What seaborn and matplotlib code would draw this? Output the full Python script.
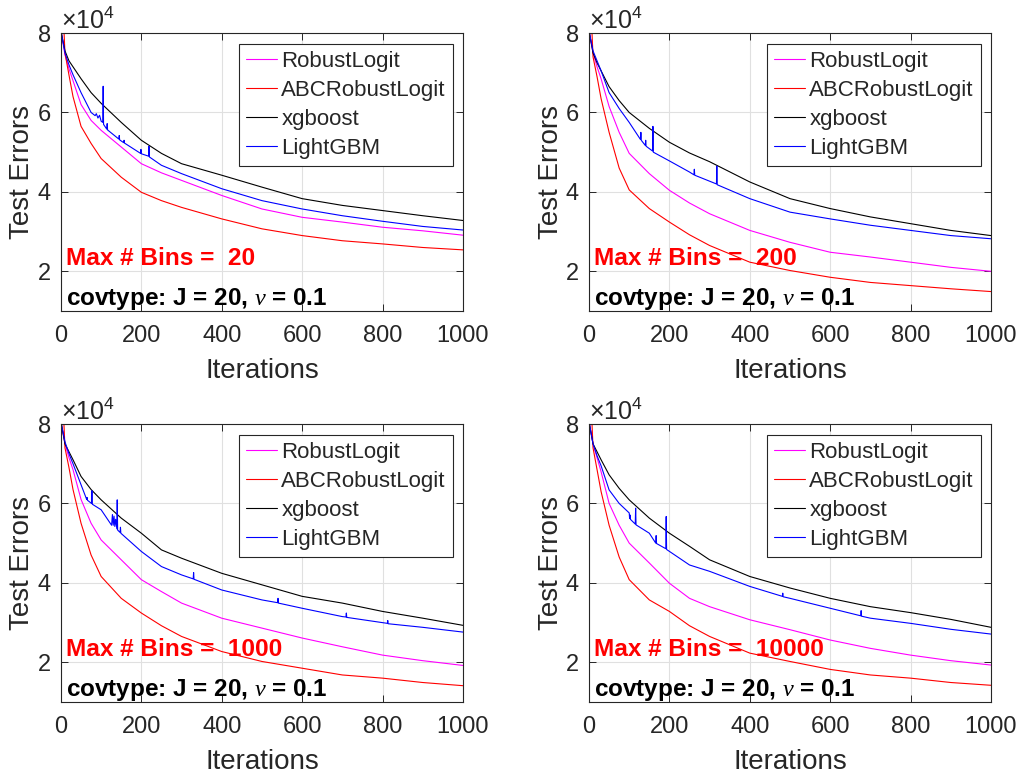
import pandas as pd
import matplotlib
matplotlib.use("Agg")
import matplotlib.pyplot as plt
import seaborn as sns

# test errors, in units of 1e4
iters = [1, 10, 20, 30, 50, 75, 100, 150, 200, 250, 300, 400, 500, 600, 700, 800, 900, 1000]
methods = ["RobustLogit", "ABCRobustLogit", "xgboost", "LightGBM"]
colors = ["#ff00ff", "#ff0000", "#000000", "#0000ff"]
bins = [20, 200, 1000, 10000]

# Max # Bins = 20
rob1 = [8.0, 7.45, 7.1, 6.8, 6.2, 5.8, 5.55, 5.13, 4.71, 4.48, 4.29, 3.91, 3.57, 3.36, 3.24, 3.11, 3.02, 2.91]
abc1 = [9.5, 7.5, 6.94, 6.4, 5.65, 5.22, 4.84, 4.37, 3.99, 3.78, 3.61, 3.32, 3.07, 2.90, 2.77, 2.69, 2.60, 2.54]
xgb1 = [8.0, 7.55, 7.3, 7.15, 6.85, 6.5, 6.23, 5.75, 5.3, 4.97, 4.71, 4.42, 4.12, 3.83, 3.66, 3.53, 3.40, 3.28]
lgb1_it = [1, 10, 20, 30, 50, 75, 85, 88, 92, 96, 100, 104, 105, 106, 114, 115, 116, 144, 145, 146,
           156, 157, 158, 198, 199, 200, 218, 219, 220, 250, 300, 400, 500, 600, 700, 800, 900, 1000]
lgb1 = [8.0, 7.5, 7.2, 6.95, 6.5, 6.0, 5.92, 5.97, 5.86, 5.93, 5.78, 5.75, 6.66, 5.7, 5.58, 5.72, 5.56, 5.33, 5.42, 5.31,
        5.24, 5.3, 5.23, 4.97, 5.07, 4.96, 4.9, 5.15, 4.88, 4.67, 4.46, 4.08, 3.78, 3.57, 3.40, 3.26, 3.13, 3.04]

# Max # Bins = 200
rob2 = [8.0, 7.5, 7.15, 6.85, 6.15, 5.5, 4.97, 4.46, 4.04, 3.72, 3.45, 3.03, 2.73, 2.48, 2.36, 2.23, 2.10, 2.0]
abc2 = [9.5, 7.4, 6.9, 6.35, 5.5, 4.6, 4.05, 3.58, 3.24, 2.92, 2.65, 2.23, 2.02, 1.85, 1.72, 1.64, 1.56, 1.49]
xgb2 = [8.0, 7.5, 7.25, 7.05, 6.65, 6.3, 6.0, 5.6, 5.25, 4.98, 4.76, 4.25, 3.83, 3.58, 3.37, 3.20, 3.03, 2.90]
lgb2_it = [1, 10, 20, 30, 50, 75, 100, 128, 129, 130, 140, 141, 142, 158, 159, 160, 200, 250,
           261, 262, 263, 317, 318, 319, 400, 500, 600, 700, 800, 900, 1000]
lgb2 = [8.0, 7.55, 7.3, 7.05, 6.5, 6.1, 5.75, 5.32, 5.5, 5.3, 5.17, 5.3, 5.15, 5.03, 5.65, 5.0, 4.78, 4.5,
        4.43, 4.57, 4.42, 4.2, 4.65, 4.18, 3.83, 3.49, 3.32, 3.16, 3.03, 2.90, 2.82]

# Max # Bins = 1000
rob3 = [8.0, 7.5, 7.15, 6.85, 6.1, 5.5, 5.08, 4.58, 4.08, 3.78, 3.49, 3.11, 2.86, 2.61, 2.39, 2.18, 2.04, 1.92]
abc3 = [9.5, 7.4, 6.9, 6.35, 5.5, 4.7, 4.16, 3.61, 3.24, 2.92, 2.65, 2.27, 2.02, 1.85, 1.68, 1.60, 1.49, 1.41]
xgb3 = [8.0, 7.5, 7.3, 7.1, 6.68, 6.35, 6.09, 5.63, 5.25, 4.83, 4.62, 4.24, 3.95, 3.66, 3.49, 3.28, 3.11, 2.93]
lgb3_it = [1, 10, 20, 30, 50, 64, 65, 66, 76, 77, 78, 100, 126, 128, 130, 132, 134, 136, 139, 140, 141,
           147, 148, 149, 200, 250, 300, 329, 330, 331, 400, 500, 539, 540, 541, 600, 700,
           709, 710, 711, 812, 813, 814, 900, 1000]
lgb3 = [8.0, 7.55, 7.25, 7.0, 6.47, 6.1, 6.15, 6.08, 6.0, 6.32, 5.98, 5.84, 5.45, 5.72, 5.45, 5.68, 5.42, 5.6, 5.36, 6.09, 5.33,
        5.27, 5.4, 5.25, 4.79, 4.41, 4.2, 4.1, 4.26, 4.09, 3.82, 3.57, 3.5, 3.61, 3.49, 3.36, 3.15,
        3.14, 3.24, 3.13, 2.98, 3.05, 2.97, 2.88, 2.76]

# Max # Bins = 10000
rob4 = [8.0, 7.5, 7.15, 6.8, 6.0, 5.45, 5.0, 4.5, 3.99, 3.61, 3.4, 3.07, 2.82, 2.56, 2.35, 2.18, 2.04, 1.93]
abc4 = [9.5, 7.4, 6.85, 6.3, 5.45, 4.65, 4.08, 3.57, 3.28, 2.92, 2.65, 2.23, 2.02, 1.82, 1.68, 1.60, 1.49, 1.42]
xgb4 = [8.0, 7.5, 7.3, 7.1, 6.72, 6.38, 6.09, 5.63, 5.25, 4.92, 4.58, 4.16, 3.87, 3.61, 3.40, 3.25, 3.08, 2.88]
lgb4_it = [1, 10, 20, 30, 50, 75, 100, 101, 102, 103, 115, 116, 117, 150, 166, 167, 168, 191, 192, 193,
           250, 300, 400, 481, 482, 483, 500, 600, 676, 677, 678, 700, 800, 900, 1000]
lgb4 = [8.0, 7.5, 7.2, 6.95, 6.34, 6.0, 5.76, 5.62, 5.71, 5.6, 5.48, 5.88, 5.46, 5.25, 5.0, 5.19, 4.99, 4.86, 5.67, 4.84,
        4.45, 4.29, 3.91, 3.66, 3.74, 3.65, 3.61, 3.36, 3.17, 3.3, 3.16, 3.11, 2.98, 2.83, 2.71]

panels = [
    (rob1, abc1, xgb1, lgb1_it, lgb1),
    (rob2, abc2, xgb2, lgb2_it, lgb2),
    (rob3, abc3, xgb3, lgb3_it, lgb3),
    (rob4, abc4, xgb4, lgb4_it, lgb4),
]

sns.set_style("ticks")
plt.rcParams['font.family'] = ['Liberation Sans', 'DejaVu Sans']
plt.rcParams['mathtext.fontset'] = 'custom'
plt.rcParams['mathtext.rm'] = 'Liberation Sans'
plt.rcParams['mathtext.it'] = 'Liberation Serif:italic'
plt.rcParams['mathtext.bf'] = 'Liberation Sans:bold'

fig = plt.figure(figsize=(10.21, 7.76), dpi=100)
positions = [
    [0.0597, 0.5992, 0.3937, 0.3582],
    [0.5769, 0.5992, 0.3937, 0.3582],
    [0.0597, 0.0954, 0.3937, 0.3582],
    [0.5769, 0.0954, 0.3937, 0.3582],
]
axcol = (0.15, 0.15, 0.15)

for k, (rob, abc, xgb, lgb_it, lgb) in enumerate(panels):
    rows = []
    for name, vals in zip(methods[:3], [rob, abc, xgb]):
        for it, v in zip(iters, vals):
            rows.append((it, v * 1e4, name))
    for it, v in zip(lgb_it, lgb):
        rows.append((it, v * 1e4, "LightGBM"))
    df = pd.DataFrame(rows, columns=["iter", "err", "method"])

    ax = fig.add_axes(positions[k])
    sns.lineplot(data=df, x="iter", y="err", hue="method", hue_order=methods,
                 palette=colors, estimator=None, linewidth=0.8, ax=ax)

    ax.set_xlim(0, 1000)
    ax.set_ylim(1e4, 8e4)
    ax.set_xticks([0, 200, 400, 600, 800, 1000])
    ax.set_yticks([2e4, 4e4, 6e4, 8e4])
    ax.ticklabel_format(axis='y', style='sci', scilimits=(4, 4), useMathText=True)
    off = ax.yaxis.get_offset_text()
    off.set_fontsize(18)
    off.set_color(axcol)
    ax.grid(True, color=(0.88, 0.88, 0.88), linewidth=0.8)
    ax.set_axisbelow(True)
    ax.tick_params(direction='in', top=True, right=True, length=5, width=0.7,
                   labelsize=17, colors=axcol)
    ax.tick_params(axis='x', pad=10)
    ax.tick_params(axis='y', pad=7)
    for sp in ax.spines.values():
        sp.set_color(axcol)
        sp.set_linewidth(0.8)
    ax.set_xlabel("Iterations", fontsize=20, color=axcol, labelpad=8)
    ax.set_ylabel("Test Errors", fontsize=20, color=axcol, labelpad=1)

    handles, labels = ax.get_legend_handles_labels()
    leg = ax.legend(handles, labels, loc='upper right', bbox_to_anchor=(0.975, 0.962),
                    fontsize=16, frameon=True, fancybox=False, framealpha=1,
                    edgecolor=axcol, handlelength=1.4, handletextpad=0.2,
                    labelspacing=0.36, borderpad=0.32, borderaxespad=0)
    leg.get_frame().set_linewidth(0.8)

    ax.text(0.012, 0.165, f"Max # Bins =  {bins[k]}", transform=ax.transAxes,
            color='#ff0000', fontsize=17.6, fontweight='bold', ha='left', va='baseline')
    ax.text(0.012, 0.022, r"covtype: J = 20, $\nu$ = 0.1", transform=ax.transAxes,
            color='black', fontsize=17.5, fontweight='bold', ha='left', va='baseline')

fig.savefig("out.png", dpi=100)
